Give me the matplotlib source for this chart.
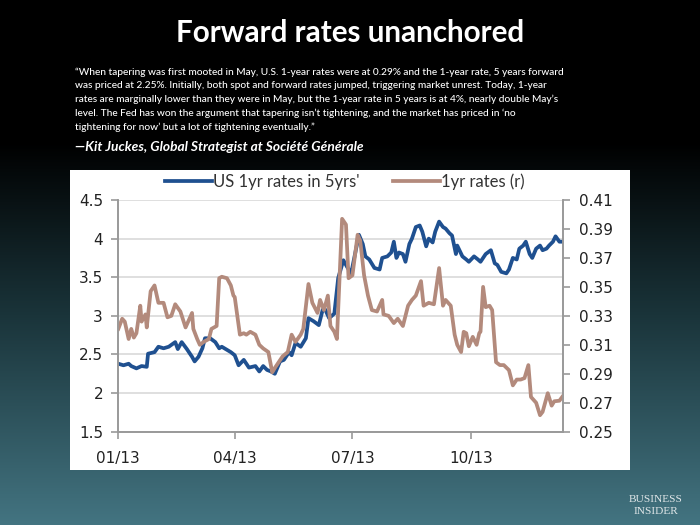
"""Forward rates unanchored - recreated chart"""

import numpy as np
import matplotlib.pyplot as plt
import matplotlib.dates as mdates
from matplotlib.patches import Rectangle
from matplotlib.colors import LinearSegmentedColormap

# 数据: 距 2013-01-01 的天数
fwd_days = [0, 4, 8, 10, 14, 18, 22, 23, 28, 31, 35, 39, 44, 46, 49, 53, 57, 59,
            62, 65, 67, 71, 75, 78, 80, 84, 87, 90, 93, 97, 101, 106, 109, 112,
            115, 118, 121, 125, 128, 132, 134, 137, 141, 145, 147, 151, 155, 158,
            160, 163, 167, 170, 174, 177, 180, 186, 189, 191, 194, 198, 202, 204,
            208, 211, 213, 215, 217, 220, 222, 225, 227, 230, 233, 235, 238, 240,
            243, 245, 248, 251, 253, 256, 258, 261, 262, 266, 269, 271, 275, 278,
            280, 284, 288, 291, 293, 296, 300, 302, 305, 308, 310, 313, 315, 318,
            320, 323, 326, 328, 331, 333, 336, 338, 341, 344]
fwd_vals = [2.38, 2.36, 2.38, 2.35, 2.32, 2.35, 2.34, 2.51, 2.53, 2.60, 2.58, 2.60,
            2.66, 2.57, 2.66, 2.57, 2.47, 2.41, 2.47, 2.58, 2.71, 2.71, 2.66, 2.58,
            2.60, 2.56, 2.53, 2.49, 2.36, 2.43, 2.33, 2.35, 2.28, 2.35, 2.30, 2.28,
            2.25, 2.41, 2.43, 2.53, 2.49, 2.65, 2.60, 2.71, 2.97, 2.93, 2.88, 3.08,
            3.08, 2.97, 3.03, 3.49, 3.72, 3.63, 3.55, 4.05, 3.93, 3.77, 3.73, 3.62,
            3.60, 3.75, 3.77, 3.82, 3.96, 3.75, 3.82, 3.80, 3.70, 3.93, 4.00, 4.15,
            4.17, 4.09, 3.90, 4.00, 3.95, 4.09, 4.22, 4.15, 4.13, 4.07, 4.04, 3.80,
            3.91, 3.77, 3.73, 3.70, 3.77, 3.73, 3.70, 3.80, 3.85, 3.68, 3.66, 3.57,
            3.55, 3.60, 3.75, 3.73, 3.87, 3.91, 3.96, 3.80, 3.75, 3.87, 3.91, 3.85,
            3.87, 3.91, 3.96, 4.03, 3.96, 3.96]

spot_days = [0, 3, 5, 8, 10, 12, 14, 17, 18, 21, 22, 25, 28, 31, 35, 38, 41, 44,
             48, 52, 54, 57, 58, 61, 63, 66, 70, 72, 76, 78, 80, 84, 87, 89, 90,
             94, 97, 99, 102, 106, 109, 112, 116, 119, 121, 124, 127, 131, 134,
             137, 141, 143, 147, 150, 154, 156, 159, 162, 164, 167, 169, 173, 176,
             178, 181, 185, 187, 190, 193, 196, 200, 204, 205, 209, 213, 216, 220,
             224, 227, 230, 234, 236, 240, 244, 248, 251, 253, 257, 260, 262, 265,
             267, 269, 271, 274, 277, 279, 280, 282, 284, 287, 289, 292, 295, 298,
             302, 305, 308, 311, 314, 317, 319, 323, 326, 328, 332, 335, 337, 341,
             344]
spot_vals = [0.321, 0.328, 0.326, 0.314, 0.321, 0.315, 0.318, 0.337, 0.326, 0.331,
             0.322, 0.347, 0.351, 0.339, 0.339, 0.329, 0.330, 0.338, 0.333, 0.322,
             0.326, 0.332, 0.321, 0.314, 0.310, 0.312, 0.314, 0.321, 0.323, 0.356,
             0.357, 0.356, 0.351, 0.344, 0.343, 0.317, 0.318, 0.317, 0.319, 0.317,
             0.310, 0.3075, 0.305, 0.291, 0.294, 0.298, 0.302, 0.305, 0.317, 0.312,
             0.317, 0.321, 0.352, 0.339, 0.332, 0.341, 0.334, 0.344, 0.323, 0.319,
             0.314, 0.397, 0.393, 0.356, 0.358, 0.386, 0.382, 0.358, 0.344, 0.334,
             0.333, 0.341, 0.331, 0.330, 0.325, 0.328, 0.323, 0.337, 0.341, 0.344,
             0.354, 0.337, 0.339, 0.338, 0.363, 0.337, 0.341, 0.337, 0.317, 0.310,
             0.305, 0.319, 0.318, 0.309, 0.3155, 0.310, 0.318, 0.319, 0.350, 0.336,
             0.337, 0.334, 0.298, 0.296, 0.296, 0.2925, 0.282, 0.286, 0.286, 0.287,
             0.296, 0.274, 0.270, 0.2614, 0.2637, 0.2766, 0.268, 0.271, 0.2714,
             0.275]

left_ticks = [1.5, 2, 2.5, 3, 3.5, 4, 4.5]
right_ticks = [0.25, 0.27, 0.29, 0.31, 0.33, 0.35, 0.37, 0.39, 0.41]
month_ticks = ['2013-01-01', '2013-04-01', '2013-07-01', '2013-10-01']

BLUE = '#1f5090'
BROWN = '#b38a7c'

title_text = 'Forward rates unanchored'
quote_lines = [
    '\u201cWhen tapering was first mooted in May, U.S. 1-year rates were at 0.29% and the 1-year rate, 5 years forward',
    'was priced at 2.25%. Initially, both spot and forward rates jumped, triggering market unrest. Today, 1-year',
    'rates are marginally lower than they were in May, but the 1-year rate in 5 years is at 4%, nearly double May\u2019s',
    'level. The Fed has won the argument that tapering isn\u2019t tightening, and the market has priced in \u2018no',
    'tightening for now\u2019 but a lot of tightening eventually.\u201d',
]
author_text = '\u2014Kit Juckes, Global Strategist at Soci\u00e9t\u00e9 G\u00e9n\u00e9rale'


def main():
    base = np.datetime64('2013-01-01')
    fwd_x = base + np.array(fwd_days).astype('timedelta64[D]')
    spot_x = base + np.array(spot_days).astype('timedelta64[D]')

    W, H = 700, 525
    fig = plt.figure(figsize=(7, 5.25), dpi=100)

    # 背景渐变
    bg = fig.add_axes([0, 0, 1, 1], zorder=-10)
    cmap = LinearSegmentedColormap.from_list(
        'bg', [(0, '#000000'), (0.27, '#000000'), (0.6, '#1a343a'), (1, '#437481')])
    grad = np.linspace(0, 1, 256).reshape(-1, 1)
    bg.imshow(grad, cmap=cmap, aspect='auto', extent=[0, 1, 0, 1], origin='upper')
    bg.axis('off')

    # 白色图表面板
    fig.patches.append(Rectangle((70 / W, 1 - 470 / H), 560 / W, 300 / H,
                                 transform=fig.transFigure, facecolor='white',
                                 edgecolor='none', zorder=-5))

    fig.text(0.5, 1 - 33 / H, title_text, color='white', fontsize=21.3,
             fontweight='bold', family='Lato', ha='center', va='center')
    for i, line in enumerate(quote_lines):
        fig.text(75 / W, 1 - (72 + i * 13.8) / H, line, color='white',
                 fontsize=7.25, family='Lato', fontweight='medium',
                 ha='left', va='center')
    fig.text(75 / W, 1 - 147 / H, author_text, color='white', fontsize=9.9,
             family='Lato', style='italic', fontweight='bold',
             ha='left', va='center')

    fig.text(656 / W, 1 - 499 / H, 'BUSINESS', color='#dfe6e8', fontsize=8.2,
             family='Liberation Serif', ha='center', va='center')
    fig.text(656 / W, 1 - 512 / H, 'INSIDER', color='#dfe6e8', fontsize=8.2,
             family='Liberation Serif', ha='center', va='center')

    ax = fig.add_axes([118.3 / W, 1 - 431.7 / H, 445 / W, 231.7 / H])
    ax2 = ax.twinx()

    l1, = ax.plot(fwd_x, fwd_vals, color=BLUE, lw=2.7, solid_joinstyle='round')
    l2, = ax2.plot(spot_x, spot_vals, color=BROWN, lw=2.7, solid_joinstyle='round')

    ax.set_ylim(1.5, 4.5)
    ax.set_yticks(left_ticks)
    ax.set_yticklabels([f'{t:g}' for t in left_ticks])
    ax2.set_ylim(0.25, 0.41)
    ax2.set_yticks(right_ticks)
    ax2.set_yticklabels([f'{t:.2f}' for t in right_ticks])

    ax.set_xlim(np.datetime64('2013-01-01'), np.datetime64('2013-12-11'))
    ax.set_xticks([np.datetime64(d) for d in month_ticks])
    ax.xaxis.set_major_formatter(mdates.DateFormatter('%m/%y'))

    ax.grid(axis='y', color='#d9d9d9', lw=1.2)
    ax.set_axisbelow(True)
    for a in (ax, ax2):
        a.set_facecolor('none')
        a.spines['top'].set_visible(False)
        for s in ('left', 'right', 'bottom'):
            a.spines[s].set_color('#999999')
            a.spines[s].set_linewidth(1.2)
        a.tick_params(colors='#999999', labelcolor='#222222', labelsize=11,
                      length=5, width=1.2)
    ax.tick_params(axis='x', pad=9)
    ax.tick_params(axis='y', pad=6)
    ax2.tick_params(axis='y', pad=6)

    fig.legend([l1, l2], ["US 1yr rates in 5yrs'", '1yr rates (r)'],
               loc='center', bbox_to_anchor=(345 / W, 1 - 182 / H), ncol=2,
               frameon=False, handlelength=2.8, handletextpad=0.1,
               columnspacing=2.0, prop={'family': 'Lato', 'size': 12},
               labelcolor='#333333')

    plt.savefig('out.png', dpi=100)


if __name__ == '__main__':
    main()
